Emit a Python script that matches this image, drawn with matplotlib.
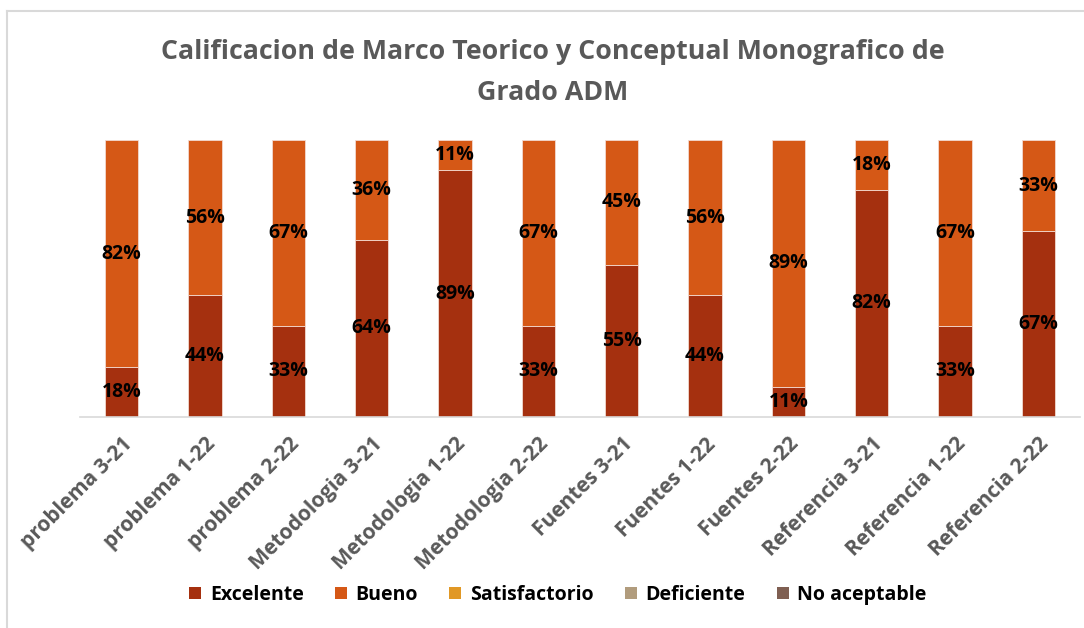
import numpy as np
import matplotlib.pyplot as plt
from matplotlib.patches import Patch
from matplotlib.lines import Line2D

plt.rcParams['font.family'] = ['Open Sans', 'DejaVu Sans']

categorias = ['problema 3-21', 'problema 1-22', 'problema 2-22', 'Metodologia 3-21',
              'Metodologia 1-22', 'Metodologia 2-22', 'Fuentes 3-21', 'Fuentes 1-22',
              'Fuentes 2-22', 'Referencia 3-21', 'Referencia 1-22', 'Referencia 2-22']
excelente = [18, 44, 33, 64, 89, 33, 55, 44, 11, 82, 33, 67]
bueno = [82, 56, 67, 36, 11, 67, 45, 56, 89, 18, 67, 33]
series = ['Excelente', 'Bueno', 'Satisfactorio', 'Deficiente', 'No aceptable']
colores = ['#A5300F', '#D55816', '#E19825', '#B19C7D', '#7F5F52']

fig = plt.figure(figsize=(10.84, 6.28), dpi=100)
ax = fig.add_axes([80 / 1084, 1 - 417 / 628, 1000 / 1084, 277 / 628])

x = np.arange(len(categorias))
w = 0.4
ax.bar(x, excelente, w, color=colores[0], edgecolor='#F2D9D0', linewidth=0.6)
ax.bar(x, bueno, w, bottom=excelente, color=colores[1], edgecolor='#F2D9D0', linewidth=0.6)

for i in range(len(categorias)):
    ax.text(x[i], excelente[i] / 2, f'{excelente[i]}%', ha='center', va='center',
            fontsize=14, fontweight='bold', color='black')
    ax.text(x[i], excelente[i] + bueno[i] / 2, f'{bueno[i]}%', ha='center', va='center',
            fontsize=14, fontweight='bold', color='black')

ax.set_xlim(-0.5, len(categorias) - 0.5)
ax.set_ylim(0, 100)
ax.set_yticks([])
for s in ['top', 'right', 'left']:
    ax.spines[s].set_visible(False)
ax.spines['bottom'].set_color('#D9D9D9')
ax.spines['bottom'].set_linewidth(1.2)
ax.set_xticks(x)
ax.set_xticklabels(categorias, rotation=45, ha='right', rotation_mode='anchor',
                   fontsize=15, fontweight='bold', color='#595959')
ax.tick_params(axis='x', length=0, pad=12)

fig.text(553 / 1084, 1 - 52 / 628, 'Calificacion de Marco Teorico y Conceptual Monografico de',
         ha='center', va='center', fontsize=19.3, fontweight='bold', color='#595959')
fig.text(553 / 1084, 1 - 93 / 628, 'Grado ADM',
         ha='center', va='center', fontsize=19.3, fontweight='bold', color='#595959')

handles = [Patch(facecolor=c, edgecolor='none') for c in colores]
fig.legend(handles, series, loc='center', bbox_to_anchor=(558 / 1084, 1 - 595 / 628),
           ncol=5, frameon=False, prop={'size': 14, 'weight': 'bold'},
           handlelength=0.62, handleheight=0.62, handletextpad=0.45, columnspacing=1.6)

# marco del grafico
fig.add_artist(Line2D([6.5 / 1084, 6.5 / 1084], [0, 1 - 11 / 628], transform=fig.transFigure,
                      color='#D9D9D9', linewidth=1.5))
fig.add_artist(Line2D([6.5 / 1084, 1], [1 - 11 / 628, 1 - 11 / 628], transform=fig.transFigure,
                      color='#D9D9D9', linewidth=1.5))

fig.savefig('out.png', dpi=100)
